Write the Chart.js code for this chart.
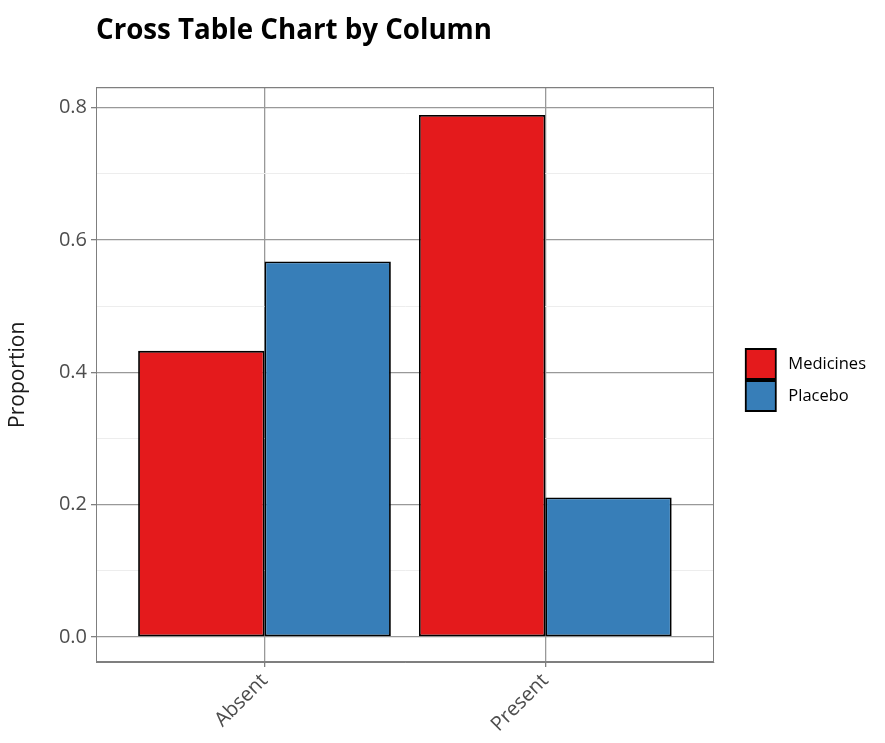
<!DOCTYPE html>
<html>
<head>
<meta charset="utf-8">
<script src="https://cdn.jsdelivr.net/npm/chart.js@4"></script>
<style>
  html, body { margin: 0; padding: 0; background: #fff; }
  #wrap { width: 885px; height: 743px; }
</style>
</head>
<body>
<div id="wrap"><canvas id="chart" width="885" height="743"></canvas></div>
<script>
const categories = ['Absent', 'Present'];
const seriesNames = ['Medicines', 'Placebo'];
const medicines = [0.4325, 0.789];
const placebo = [0.5675, 0.211];
const yMajor = [0, 0.2, 0.4, 0.6, 0.8];
const yMinor = [0.1, 0.3, 0.5, 0.7];

const yMin = -0.0378, yMax = 0.8302;
const xMin = 0.4, xMax = 2.6;
const xPos = categories.map((c, i) => i + 1);

const edgeCol = '#7f7f7f', majorCol = '#999999', minorCol = '#ededed';
const font = 'Open Sans';

const ctx = document.getElementById('chart').getContext('2d');
new Chart(ctx, {
  type: 'bar',
  data: {
    datasets: [
      { label: seriesNames[0], data: medicines.map((v, i) => ({ x: xPos[i], y: v })),
        backgroundColor: '#E41A1C', borderColor: '#000', borderWidth: 1.8, borderSkipped: false },
      { label: seriesNames[1], data: placebo.map((v, i) => ({ x: xPos[i], y: v })),
        backgroundColor: '#377EB8', borderColor: '#000', borderWidth: 1.8, borderSkipped: false }
    ]
  },
  options: {
    responsive: false,
    animation: false,
    layout: { padding: { top: 17, right: 9, bottom: 0, left: 0 } },
    datasets: { bar: { categoryPercentage: 0.9, barPercentage: 1.0 } },
    scales: {
      x: {
        type: 'linear', min: xMin, max: xMax, offset: false,
        afterBuildTicks: s => { s.ticks = xPos.map(v => ({ value: v })); },
        afterFit: s => { s.height = 81; },
        grid: {
          offset: false,
          color: majorCol,
          lineWidth: 1.3,
          tickLength: 5,
          tickColor: edgeCol
        },
        border: { display: true, color: edgeCol, width: 1 },
        ticks: {
          autoSkip: false, minRotation: 45, maxRotation: 45, padding: 2,
          color: '#4d4d4d', font: { family: font, size: 20 },
          callback: v => { const i = xPos.indexOf(v); return i >= 0 ? categories[i] : ''; }
        }
      },
      y: {
        type: 'linear', min: yMin, max: yMax,
        afterBuildTicks: s => {
          s.ticks = [yMin, ...yMajor, ...yMinor, yMax].sort((a, b) => a - b).map(v => ({ value: v }));
        },
        afterFit: s => { s.width = 96; },
        grid: {
          offset: false,
          color: c => {
            const v = c.tick ? c.tick.value : null;
            if (v === yMin || v === yMax) return edgeCol;
            return yMajor.includes(v) ? majorCol : minorCol;
          },
          lineWidth: c => (c.tick && yMinor.includes(c.tick.value)) ? 1 : 1.3,
          tickLength: 5,
          tickColor: c => (c.tick && yMajor.includes(c.tick.value)) ? edgeCol : 'rgba(0,0,0,0)'
        },
        border: { display: true, color: edgeCol, width: 1 },
        ticks: {
          padding: 4, color: '#4d4d4d', font: { family: font, size: 20 },
          callback: v => yMajor.includes(v) ? v.toFixed(1) : ''
        },
        title: {
          display: true, text: 'Proportion', color: '#1a1a1a',
          font: { family: font, size: 21, lineHeight: 1.2 }, padding: { top: 5, bottom: 0 }
        }
      },
      gap: {
        type: 'linear', position: 'right', display: true,
        grid: { display: false }, border: { display: true, color: edgeCol, width: 1 },
        ticks: { display: false },
        afterFit: s => { s.width = 30; }
      }
    },
    plugins: {
      tooltip: { enabled: false },
      title: {
        display: true, text: 'Cross Table Chart by Column', align: 'start', fullSize: false,
        color: '#000', font: { family: font, size: 27.7, weight: 'bold', lineHeight: 1.0 },
        padding: { top: 0, bottom: 43 }
      },
      legend: {
        position: 'right', align: 'center',
        labels: {
          boxWidth: 30, boxHeight: 30, padding: 2, color: '#1a1a1a',
          font: { family: font, size: 16.5 },
          generateLabels: chart => chart.data.datasets.map((d, i) => ({
            text: ' ' + d.label, fillStyle: d.backgroundColor, strokeStyle: '#000',
            lineWidth: 1.8, datasetIndex: i, hidden: false
          }))
        }
      }
    }
  }
});
</script>
</body>
</html>
